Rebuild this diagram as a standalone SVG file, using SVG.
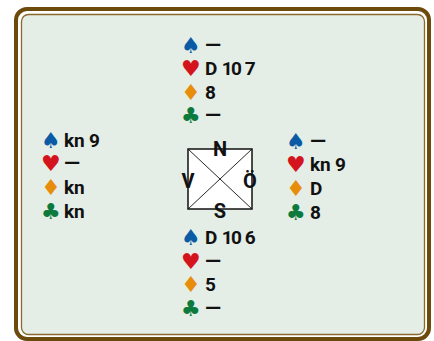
<svg xmlns="http://www.w3.org/2000/svg" width="434" height="341" viewBox="0 0 434 341">
<style>
.t{font-family:Roboto,"Liberation Sans",sans-serif;font-weight:700;font-size:19px;fill:#111;letter-spacing:-0.2px}
.n{letter-spacing:-1.6px}
.d{font-size:21px}
.s{font-family:"DejaVu Sans",sans-serif;font-size:22px}
.sp{fill:#0a5aa5}.he{fill:#d4141c}.di{fill:#e88c0c}.cl{fill:#0c7a3c}
.lab{font-family:Roboto,"Liberation Sans",Arial,sans-serif;font-weight:700;font-size:20px;fill:#111;text-anchor:middle}
</style>
<rect x="16" y="9" width="413" height="330" rx="11" fill="#ffffff" stroke="#6b4a0c" stroke-width="4"/>
<rect x="21.5" y="14.5" width="403" height="320" rx="7" fill="#e4eee6" stroke="#8a6a2c" stroke-width="1.3"/>
<g id="north">
<text class="s sp" x="181" y="53">♠</text><text class="t" x="205" y="52"><tspan class="d">—</tspan></text>
<text class="s he" x="181" y="76">♥</text><text class="t" x="205" y="75">D <tspan class="n">10</tspan> 7</text>
<text class="s di" x="181" y="100">♦</text><text class="t" x="205" y="99">8</text>
<text class="s cl" x="181" y="123">♣</text><text class="t" x="205" y="122"><tspan class="d">—</tspan></text>
</g>
<g id="west">
<text class="s sp" x="41" y="148">♠</text><text class="t" x="64" y="147">kn 9</text>
<text class="s he" x="41" y="171">♥</text><text class="t" x="64" y="170"><tspan class="d">—</tspan></text>
<text class="s di" x="41" y="195">♦</text><text class="t" x="64" y="194">kn</text>
<text class="s cl" x="41" y="219">♣</text><text class="t" x="64" y="218">kn</text>
</g>
<g id="east">
<text class="s sp" x="286" y="149">♠</text><text class="t" x="310" y="148"><tspan class="d">—</tspan></text>
<text class="s he" x="286" y="172">♥</text><text class="t" x="310" y="171">kn 9</text>
<text class="s di" x="286" y="196">♦</text><text class="t" x="310" y="195">D</text>
<text class="s cl" x="286" y="220">♣</text><text class="t" x="310" y="219">8</text>
</g>
<g id="south">
<text class="s sp" x="181" y="245">♠</text><text class="t" x="205" y="244">D <tspan class="n">10</tspan> 6</text>
<text class="s he" x="181" y="269">♥</text><text class="t" x="205" y="268"><tspan class="d">—</tspan></text>
<text class="s di" x="181" y="292">♦</text><text class="t" x="205" y="291">5</text>
<text class="s cl" x="181" y="316">♣</text><text class="t" x="205" y="315"><tspan class="d">—</tspan></text>
</g>
<g id="compass">
<rect x="188" y="149" width="64" height="60" fill="#ffffff" stroke="#111" stroke-width="1.5"/>
<g id="connectors" stroke="#111" stroke-width="0.9">
<line x1="188" y1="149" x2="252" y2="209"/>
<line x1="252" y1="149" x2="188" y2="209"/>
</g>
<text class="lab" x="220" y="156">N</text>
<text class="lab" x="188" y="188">V</text>
<text class="lab" x="250" y="188">Ö</text>
<text class="lab" x="220" y="218">S</text>
</g>
</svg>
